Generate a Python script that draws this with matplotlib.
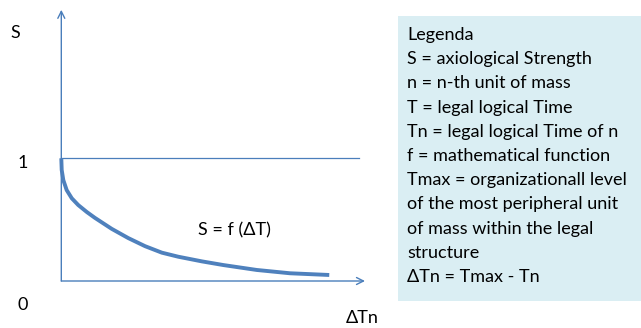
import matplotlib
matplotlib.use("Agg")
from matplotlib import pyplot as plt
from matplotlib import patches

# curve: S against delta T (arbitrary units)
delta_t = [0.0, 0.015, 0.074, 0.20, 0.39, 0.63, 0.95, 1.254, 1.876, 2.49,
           3.115, 3.74, 4.35, 5.23, 6.03, 7.27, 8.51, 9.97]
strength = [1.0, 0.905, 0.823, 0.741, 0.674, 0.619, 0.562, 0.514, 0.425,
            0.350, 0.284, 0.231, 0.198, 0.160, 0.130, 0.090, 0.063, 0.049]

x_axis_end = 11.3
y_axis_end = 2.21
unit_line_end = 11.08

legend_lines = [
    "Legenda",
    "S = axiological Strength",
    "n = n-th unit of mass",
    "T = legal logical Time",
    "Tn = legal logical Time of n",
    "f = mathematical function",
    "Tmax = organizationall level",
    "of the most peripheral unit",
    "of mass within the legal",
    "structure",
    "\u0394Tn = Tmax - Tn",
]

plt.rcParams['font.family'] = ['Lato', 'DejaVu Sans']
blue = '#4a7ebb'

fig = plt.figure(figsize=(6.41, 3.28), dpi=100)
ax = fig.add_axes([0, 0, 1, 1])
ax.set_xlim(-2.281, 21.57)
ax.set_ylim(-0.383, 2.290)
ax.axis('off')

# axes with open arrow heads
arrow = dict(arrowstyle='->,head_length=0.5,head_width=0.25', color=blue,
             lw=1.0, shrinkA=0, shrinkB=0)
ax.annotate("", xy=(x_axis_end, 0), xytext=(0, 0), arrowprops=arrow)
ax.annotate("", xy=(0, y_axis_end), xytext=(0, 0), arrowprops=arrow)
ax.plot([0, unit_line_end], [1, 1], color=blue, lw=0.9)

ax.plot(delta_t, strength, color='#4f81bd', lw=2.8, solid_capstyle='butt',
        solid_joinstyle='round')

fs = 13
ax.text(-1.72, 2.02, "S", fontsize=fs, ha='center', va='center')
ax.text(-1.45, 0.96, "1", fontsize=fs, ha='center', va='center')
ax.text(-1.45, -0.196, "0", fontsize=fs, ha='center', va='center')
ax.text(11.19, -0.30, "\u0394Tn", fontsize=fs, ha='center', va='center')
ax.text(6.46, 0.416, "S = f (\u0394T)", fontsize=fs, ha='center', va='center')

# legend box
box = patches.Rectangle((398 / 641, 27 / 328), 243 / 641, 285 / 328,
                        transform=fig.transFigure, facecolor='#daeef3',
                        edgecolor='none', zorder=0)
fig.patches.append(box)
for i, line in enumerate(legend_lines):
    y_px = 35 + i * 24.2
    fig.text(407 / 641, 1 - y_px / 328, line, fontsize=fs, ha='left',
             va='center')

fig.savefig("out.png", dpi=100)
